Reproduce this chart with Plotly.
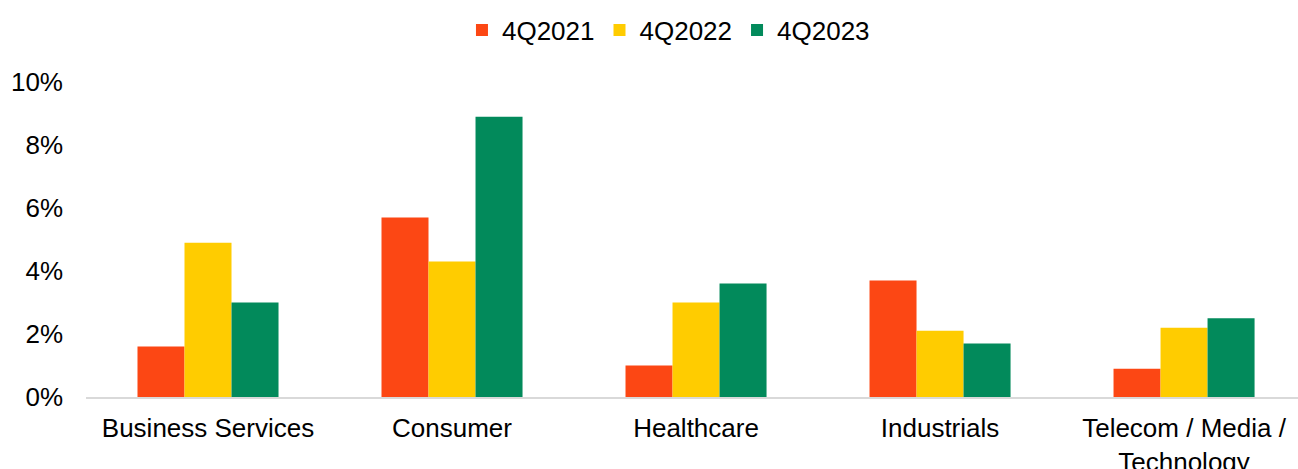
import plotly.graph_objects as go

# Sector categories and yearly values (share, as fractions)
sectors = ["Business Services", "Consumer", "Healthcare", "Industrials",
           "Telecom / Media /<br>Technology"]
series_names = ["4Q2021", "4Q2022", "4Q2023"]
values_2021 = [0.016, 0.057, 0.010, 0.037, 0.009]
values_2022 = [0.049, 0.043, 0.030, 0.021, 0.022]
values_2023 = [0.030, 0.089, 0.036, 0.017, 0.025]
colors = ["#FC4714", "#FFCC00", "#028A5B"]

y_ticks = [0, 0.02, 0.04, 0.06, 0.08, 0.10]
y_tick_text = ["0%", "2%", "4%", "6%", "8%", "10%"]

FONT = "Liberation Sans, Arial, sans-serif"
SIZE = 26

fig = go.Figure()
for name, vals, col in zip(series_names, [values_2021, values_2022, values_2023], colors):
    fig.add_trace(go.Bar(
        x=sectors, y=vals, name=name,
        marker=dict(color=col, line=dict(width=0)),
    ))

fig.update_layout(
    width=1298, height=469,
    margin=dict(l=86, r=0, t=82, b=72, autoexpand=False),
    paper_bgcolor="white", plot_bgcolor="white",
    barmode="group", bargap=0.422, bargroupgap=0,
    font=dict(family=FONT, size=SIZE, color="#000000"),
    legend=dict(
        orientation="h",
        xref="container", x=0.515, xanchor="center",
        yref="container", y=0.936, yanchor="middle",
        font=dict(family=FONT, size=SIZE, color="#000000"),
        itemwidth=30, traceorder="normal",
    ),
    showlegend=True,
)

fig.update_xaxes(
    type="category",
    range=[-0.5, 4.467],
    automargin=False,
    showline=True, linecolor="#D9D9D9", linewidth=2,
    showgrid=False, ticks="", ticklabelstandoff=7,
    tickfont=dict(family=FONT, size=SIZE, color="#000000"),
)
fig.update_yaxes(
    range=[0, 0.10],
    automargin=False,
    tickvals=y_ticks, ticktext=y_tick_text,
    showgrid=False, zeroline=False, showline=False,
    ticks="", ticklabelstandoff=22,
    tickfont=dict(family=FONT, size=SIZE, color="#000000"),
)

fig.write_html("out.html")
